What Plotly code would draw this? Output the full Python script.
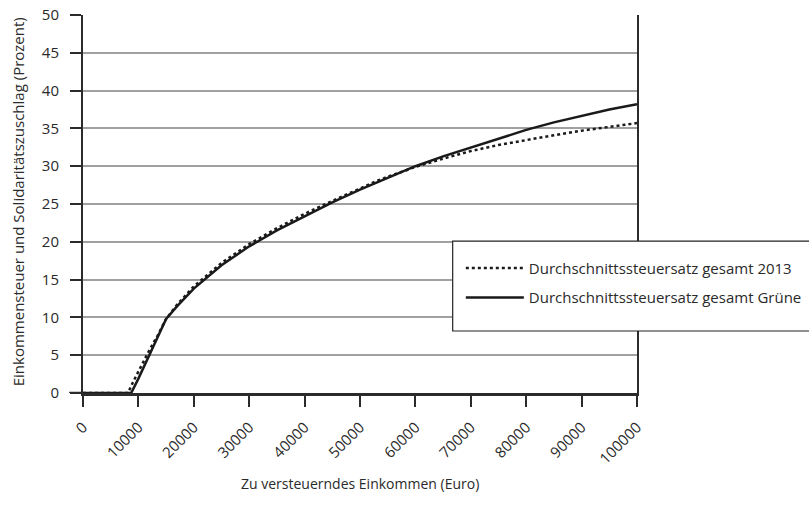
import plotly.graph_objects as go

# Data
income_2013 = [0, 8130, 9000, 10000, 12000, 13469, 15000, 17000, 20000, 25000, 30000,
               35000, 40000, 45000, 50000, 52881, 55000, 60000, 65000, 70000, 75000,
               80000, 85000, 90000, 95000, 100000]
rate_2013 = [0, 0, 1.4, 2.9, 5.7, 7.6, 9.8, 11.7, 14.1, 17.2, 19.7,
             21.8, 23.7, 25.4, 27.1, 28.0, 28.6, 29.9, 31.0, 32.0, 32.8,
             33.5, 34.1, 34.7, 35.2, 35.7]

income_gruene = [0, 8700, 10000, 12000, 15000, 17000, 20000, 25000, 30000, 35000,
                 40000, 45000, 50000, 55000, 60000, 65000, 70000, 75000, 80000,
                 85000, 90000, 95000, 100000]
rate_gruene = [0, 0, 1.9, 5.0, 9.8, 11.5, 13.8, 16.9, 19.4, 21.5,
               23.4, 25.2, 26.9, 28.5, 30.0, 31.3, 32.5, 33.7, 34.8,
               35.8, 36.7, 37.5, 38.2]

x_ticks = [0, 10000, 20000, 30000, 40000, 50000, 60000, 70000, 80000, 90000, 100000]
y_ticks = [0, 5, 10, 15, 20, 25, 30, 35, 40, 45, 50]

name_2013 = "Durchschnittssteuersatz gesamt 2013"
name_gruene = "Durchschnittssteuersatz gesamt Grüne"
x_title = "Zu versteuerndes Einkommen (Euro)"
y_title = "Einkommensteuer und Solidaritätszuschlag (Prozent)"

FONT = "Open Sans"
AX = "#2b2b2b"
TXT = "#2a2a2a"

fig = go.Figure()
fig.add_trace(go.Scatter(x=income_2013, y=rate_2013, mode="lines", name=name_2013,
                         legendgroup="a",
                         line=dict(color="#1a1a1a", width=2.5, dash="dot")))
fig.add_trace(go.Scatter(x=income_gruene, y=rate_gruene, mode="lines", name=name_gruene,
                         legendgroup="b",
                         line=dict(color="#1a1a1a", width=2.5)))

fig.update_layout(
    width=809, height=521,
    margin=dict(l=83, r=172, t=15, b=128, autoexpand=False),
    paper_bgcolor="white", plot_bgcolor="white",
    font=dict(family=FONT, size=13, color=TXT),
    showlegend=True,
    legend=dict(x=0.682, y=0.374, xanchor="left", yanchor="top",
                bgcolor="rgba(0,0,0,0)", borderwidth=0,
                font=dict(family=FONT, size=15, color=TXT),
                traceorder="grouped", tracegroupgap=7, itemwidth=58),
    xaxis=dict(range=[0, 100000], tickmode="array", tickvals=x_ticks,
               ticktext=[str(v) for v in x_ticks], tickangle=-45, automargin=False,
               showgrid=False, zeroline=False, showline=True, linecolor=AX, linewidth=2.5,
               ticks="outside", ticklen=11, tickwidth=2, tickcolor=AX,
               ticklabelstandoff=6, ticklabeloverflow="allow",
               tickfont=dict(family=FONT, size=15, color=TXT)),
    yaxis=dict(range=[0, 50], tickmode="array", tickvals=y_ticks, automargin=False,
               showgrid=True, gridcolor="#a0a0a0", gridwidth=1.5, zeroline=False,
               showline=True, linecolor=AX, linewidth=2, mirror=True,
               ticks="outside", ticklen=11, tickwidth=2, tickcolor=AX,
               ticklabelstandoff=8, ticklabeloverflow="allow",
               tickfont=dict(family=FONT, size=15, color=TXT)),
    annotations=[
        dict(text=x_title, xref="paper", yref="paper", x=0.5, y=-0.24,
             xanchor="center", yanchor="middle", showarrow=False,
             font=dict(family=FONT, size=14, color=TXT)),
        dict(text=y_title, xref="paper", yref="paper", x=-0.117, y=0.505,
             xanchor="center", yanchor="middle", showarrow=False, textangle=-90,
             font=dict(family=FONT, size=15, color=TXT)),
    ],
    shapes=[
        dict(type="line", xref="paper", yref="y", x0=-0.025, x1=0, y0=0, y1=0,
             line=dict(color=AX, width=2.5)),
        # legend frame
        dict(type="rect", xref="paper", yref="paper", x0=0.6673, x1=1.33,
             y0=0.164, y1=0.402, fillcolor="white", layer="above",
             line=dict(color="#222", width=1.2)),
    ],
)

fig.write_html("out.html", config={"displayModeBar": False},
               post_script="document.body.style.margin='0';")
